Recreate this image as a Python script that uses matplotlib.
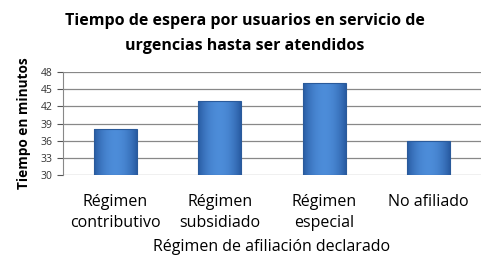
import numpy as np
import matplotlib.pyplot as plt

categorias = ['Régimen\ncontributivo', 'Régimen\nsubsidiado', 'Régimen\nespecial', 'No afiliado']
tiempos = [38, 43, 46, 36]
yticks = [30, 33, 36, 39, 42, 45, 48]

plt.rcParams['font.family'] = ['Open Sans', 'DejaVu Sans']

fig = plt.figure(figsize=(4.85, 2.79), dpi=100)
ax = fig.add_axes([63/485, 1 - 175/279, 418/485, 103/279])

x = np.arange(len(categorias))
bars = ax.bar(x, [t - 30 for t in tiempos], bottom=30, width=0.41,
              color='none', edgecolor='#2a5a9a', linewidth=0.8, zorder=4)

# horizontal gradient inside each bar (darker edges, lighter centre)
grad = np.linspace(-1, 1, 64)
shade = 1 - np.abs(grad) ** 2
img = np.zeros((1, 64, 3))
dark = np.array([0.16, 0.36, 0.64])
light = np.array([0.30, 0.55, 0.85])
img[0] = dark + np.outer(shade, light - dark)
for b in bars:
    bx, by = b.get_x(), b.get_y()
    im = ax.imshow(img, extent=[bx, bx + b.get_width(), by, by + b.get_height()],
                   aspect='auto', zorder=3, interpolation='bicubic')
    im.set_clip_path(b)

ax.set_xlim(-0.5, 3.5)
ax.set_ylim(30, 48)
ax.set_yticks(yticks)
ax.tick_params(axis='y', labelsize=7.5, colors='#555555', length=4, width=0.8)
ax.tick_params(axis='y', labelcolor='#333333')
ax.set_xticks(x)
ax.set_xticklabels(categorias, fontsize=11.5, linespacing=1.4)
ax.tick_params(axis='x', length=0, pad=13.5)
ax.grid(axis='y', color='#888888', linewidth=0.9, zorder=0)
for s in ['top', 'right', 'bottom']:
    ax.spines[s].set_visible(False)
ax.spines['left'].set_color('#888888')

ax.set_xlabel('Régimen de afiliación declarado', fontsize=11.5, labelpad=6)
ax.set_ylabel('Tiempo en minutos', fontsize=9.8, fontweight='bold', labelpad=7)

fig.text(0.505, 0.88, 'Tiempo de espera por usuarios en servicio de\nurgencias hasta ser atendidos',
         ha='center', va='center', fontsize=11.5, fontweight='bold', linespacing=1.8)

fig.savefig('out.png', dpi=100)
